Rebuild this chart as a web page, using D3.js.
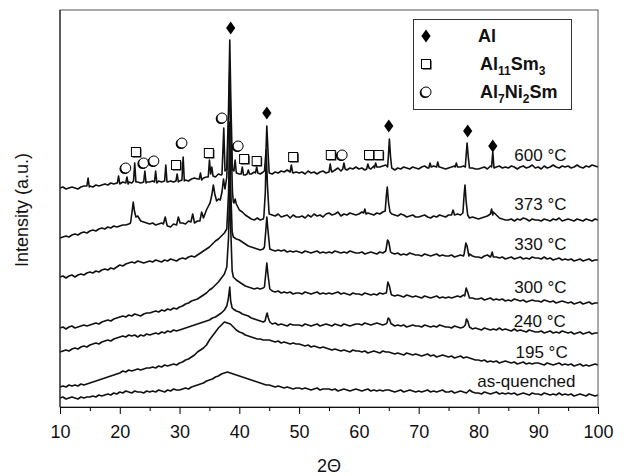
<!DOCTYPE html>
<html>
<head>
<meta charset="utf-8">
<script src="https://cdn.jsdelivr.net/npm/d3@7"></script>
<style>
  body { margin: 0; background: #fff; }
  text { font-family: "Liberation Sans", Arial, sans-serif; }
</style>
</head>
<body>
<script>

MARGIN = ({top: 10, right: 28, bottom: 69, left: 60});
WIDTH = 626;
HEIGHT = 476;

// 2-theta grid for the background values: 10 .. 100 deg, every 0.5 deg
GRID_START = 10;
GRID_STEP = 0.5;

// intensity (a.u.) on the grid, one value per 0.5 deg
var asQuenched = [
  9,10,8,9,10,9,8,10,9,10,
  10,11,10,12,11,12,13,12,14,13,
  15,14,16,15,14,16,15,15,14,16,
  15,16,15,17,16,15,17,16,18,17,
  17,18,19,18,20,21,22,23,24,26,
  27,28,30,31,33,34,35,34,33,32,
  31,30,29,28,27,26,25,24,23,22,
  22,21,20,21,20,19,20,19,18,19,
  19,18,19,18,17,18,19,17,18,18,
  18,17,18,16,17,18,17,16,17,18,
  17,16,17,18,16,17,16,17,16,17,
  17,16,15,16,17,15,16,17,16,15,
  16,15,16,17,15,16,15,16,17,15,
  15,16,14,15,16,15,14,17,15,14,
  14,13,15,14,13,14,15,13,14,13,
  14,13,14,12,13,14,13,12,14,13,
  13,12,14,13,12,13,12,14,12,13,
  12,13,11,12,13,12,11,13,12,11,
  12];

var t195 = [
  20,21,20,22,21,22,21,23,22,23,
  24,25,26,27,28,29,30,31,32,33,
  34,36,35,37,36,37,38,37,38,39,
  39,40,39,41,40,42,41,42,43,42,
  44,45,47,48,50,52,55,57,59,62,
  67,71,75,79,82,85,84,83,80,77,
  75,74,72,71,70,69,68,68,67,67,
  67,66,65,66,64,65,64,63,64,63,
  63,62,61,62,60,61,60,59,60,59,
  58,57,58,57,56,57,56,55,57,56,
  56,55,56,54,55,56,55,54,56,55,
  55,54,53,54,53,52,54,53,52,53,
  52,51,52,53,51,52,50,51,52,51,
  50,51,49,50,51,49,50,49,48,47,
  47,46,47,45,46,45,46,44,45,46,
  45,44,45,43,44,45,43,44,43,44,
  44,43,42,44,43,42,43,44,42,43,
  42,43,41,42,43,41,42,41,42,43,
  42];

var t240 = [
  55,56,57,56,58,59,58,60,61,60,
  62,63,64,63,65,66,67,66,68,69,
  70,71,70,72,71,72,70,72,71,73,
  72,73,74,73,75,74,76,75,77,76,
  77,78,79,80,81,82,83,84,85,86,
  87,89,90,92,94,97,102,103,98,96,
  95,93,92,91,89,88,87,86,85,86,
  84,83,84,82,83,82,81,83,82,82,
  82,81,83,82,81,82,83,81,82,83,
  82,81,83,82,81,83,82,81,82,83,
  83,82,84,83,82,83,84,83,82,83,
  82,83,81,82,81,82,80,81,82,81,
  81,80,82,81,80,81,80,82,81,80,
  80,79,81,80,79,80,79,80,78,79,
  78,77,79,78,77,78,77,79,77,78,
  77,76,78,76,77,76,75,77,76,75,
  75,76,74,75,76,74,75,74,76,75,
  74,75,73,74,75,73,74,75,73,74,
  74];

var t300 = [
  79,80,78,80,81,79,80,81,82,81,
  82,83,84,83,85,86,87,86,88,89,
  90,91,90,92,91,93,92,91,93,94,
  94,95,96,95,97,96,98,97,99,98,
  100,101,103,104,106,107,108,110,112,114,
  117,119,122,125,129,133,138,134,130,127,
  125,123,121,120,119,118,119,118,119,120,
  117,116,115,116,114,115,114,115,113,114,
  114,113,115,114,113,114,115,113,114,113,
  114,113,114,115,113,114,113,112,114,113,
  113,112,114,113,112,113,112,114,113,114,
  113,112,111,112,111,110,112,111,110,111,
  110,109,111,110,109,110,111,109,110,109,
  110,109,110,111,110,112,111,110,109,108,
  108,109,107,108,109,107,108,107,108,106,
  107,106,108,107,106,107,105,106,107,106,
  106,105,107,106,105,106,104,105,106,105,
  104,105,103,104,105,103,104,105,103,104,
  104];

var t330 = [
  130,131,129,131,132,130,132,133,132,134,
  135,134,136,135,137,138,137,139,138,140,
  142,141,143,144,145,144,146,145,144,145,
  146,145,147,146,145,147,146,148,147,146,
  148,149,148,150,151,150,152,154,156,158,
  160,163,166,168,171,174,176,173,170,168,
  167,165,163,161,160,159,158,157,158,157,
  158,157,156,157,156,157,155,156,155,156,
  155,154,156,155,154,155,156,154,155,154,
  155,154,156,155,154,155,154,156,155,154,
  154,155,153,154,155,154,153,155,154,156,
  155,154,153,154,152,153,152,154,153,152,
  152,151,153,152,151,152,153,151,152,151,
  151,152,150,151,152,151,152,153,151,150,
  150,149,151,152,150,149,150,149,150,148,
  149,150,148,149,150,148,149,148,150,149,
  149,148,150,148,149,147,148,149,147,148,
  147,148,146,147,148,146,147,148,146,147,
  147];

var t373 = [
  169,170,171,170,172,173,172,174,175,174,
  176,177,176,178,179,178,180,179,181,180,
  181,182,182,183,190,200,190,186,185,184,
  183,184,182,183,184,187,181,180,183,186,
  185,184,183,186,190,185,186,190,193,197,
  203,210,206,207,212,225,240,230,205,203,
  197,195,192,190,188,187,189,187,188,190,
  193,192,191,193,190,191,192,189,192,190,
  190,191,189,192,190,193,191,192,190,193,
  194,192,193,195,191,193,192,194,193,192,
  193,195,196,194,193,192,194,193,195,196,
  194,193,192,191,193,192,190,191,192,190,
  190,191,192,190,189,191,190,192,191,190,
  192,194,196,193,192,193,190,189,190,189,
  188,189,190,191,193,195,192,189,188,187,
  187,188,186,188,187,189,188,186,188,187,
  187,186,188,187,186,188,187,189,186,187,
  188,187,186,188,187,186,188,187,186,188,
  187];

var t600 = [
  219,220,218,219,220,219,218,220,221,223,
  221,220,222,221,222,223,222,224,223,224,
  224,225,223,225,224,226,225,224,226,225,
  225,226,224,226,225,227,225,226,225,227,
  226,228,227,226,228,229,228,230,229,230,
  231,232,230,233,232,240,250,245,236,234,
  233,235,232,234,233,235,234,233,235,236,
  234,233,235,234,236,235,237,236,234,235,
  234,235,233,236,234,235,233,235,236,234,
  236,235,237,239,236,238,237,239,238,240,
  238,239,237,240,238,241,239,240,241,242,
  240,238,237,239,238,240,239,238,240,239,
  238,240,241,239,242,241,243,240,239,238,
  239,240,241,242,240,241,243,242,239,238,
  238,239,240,238,241,239,240,241,239,240,
  239,241,240,238,240,241,239,240,242,239,
  240,238,241,239,240,242,240,239,241,240,
  241,239,240,242,240,239,241,240,242,241,
  240];

// sharp reflections: [2theta, intensity] points, replacing the grid inside their span
var peaks195 = [];
var peaksAsQuenched = [];
var peaks240 = [
  [[37.9,101],[38.15,108],[38.4,120],[38.55,106],[38.8,99]],
  [[44.3,86],[44.5,91],[44.65,94],[44.85,89],[45.1,85]],
  [[64.7,84],[64.9,89],[65.1,88],[65.4,83]],
  [[77.8,82],[78.0,88],[78.2,86],[78.5,80]]
];
var peaks300 = [
  [[37.9,140],[38.2,170],[38.4,230],[38.55,180],[38.8,136]],
  [[44.2,120],[44.45,135],[44.6,144],[44.8,132],[45.1,118]],
  [[64.6,114],[64.85,125],[65.1,121],[65.4,113]],
  [[77.7,111],[77.95,119],[78.2,115],[78.5,109]]
];
var peaks330 = [
  [[37.9,178],[38.2,215],[38.4,285],[38.55,220],[38.8,175]],
  [[44.2,160],[44.45,178],[44.6,190],[44.8,176],[45.1,158]],
  [[64.5,156],[64.8,167],[65.0,165],[65.3,155]],
  [[77.6,153],[77.9,164],[78.1,161],[78.4,151]],
  [[82.1,151],[82.3,155],[82.5,150]]
];
var peaks373 = [
  [[21.8,184],[22.05,195],[22.25,205],[22.45,196],[22.7,190],[23.0,191]],
  [[27.3,183],[27.6,190],[27.9,182]],
  [[29.5,182],[29.8,190],[30.1,184]],
  [[31.9,185],[32.2,193],[32.5,184]],
  [[33.4,186],[33.7,195],[34.0,189]],
  [[35.1,204],[35.4,212],[35.65,222],[35.9,213],[36.2,206],[36.5,208],[36.8,207],
   [37.1,215],[37.35,228],[37.6,218],[37.9,230],[38.2,280],[38.4,337],[38.6,270],[38.85,215]],
  [[39.1,204],[39.3,208],[39.5,203]],
  [[44.1,190],[44.35,215],[44.5,257],[44.7,222],[44.95,196]],
  [[60.8,194],[61.0,198],[61.2,193]],
  [[64.4,196],[64.6,212],[64.75,220],[64.95,205],[65.2,195]],
  [[75.5,192],[75.75,197],[76.0,192]],
  [[77.4,194],[77.6,212],[77.75,222],[77.95,205],[78.2,192]],
  [[82.0,193],[82.2,198],[82.4,192]]
];
var peaks600 = [
  [[14.5,221],[14.7,229],[14.9,220]],
  [[19.6,224],[19.8,231],[20.0,223]],
  [[21.0,224],[21.2,230],[21.4,223]],
  [[22.3,226],[22.5,244],[22.7,225]],
  [[24.0,225],[24.2,236],[24.4,224]],
  [[25.8,225],[26.0,236],[26.2,224]],
  [[27.5,226],[27.7,242],[27.9,225]],
  [[29.4,226],[29.6,233],[29.8,225]],
  [[30.4,227],[30.6,250],[30.8,226]],
  [[33.3,228],[33.5,234],[33.7,227]],
  [[34.8,230],[35.0,247],[35.2,233],[35.4,240],[35.6,231]],
  [[37.1,233],[37.4,279],[37.6,236],[37.9,238],[38.2,300],[38.4,367],[38.6,300],[38.85,238]],
  [[39.1,236],[39.3,247],[39.5,234]],
  [[40.3,233],[40.5,240],[40.7,232]],
  [[41.3,233],[41.5,237],[41.7,233]],
  [[42.7,234],[42.9,240],[43.1,234]],
  [[44.2,236],[44.45,255],[44.6,281],[44.8,255],[45.0,234]],
  [[48.5,235],[48.7,242],[48.9,235]],
  [[55.0,235],[55.2,243],[55.4,236]],
  [[57.3,238],[57.5,244],[57.7,238]],
  [[61.3,238],[61.5,243],[61.7,239]],
  [[62.6,239],[62.8,244],[63.0,240]],
  [[64.8,240],[64.95,252],[65.1,268],[65.3,250],[65.5,239]],
  [[71.7,239],[71.9,244],[72.1,240]],
  [[73.0,240],[73.2,245],[73.4,240]],
  [[76.1,240],[76.3,244],[76.5,240]],
  [[77.8,240],[77.95,252],[78.1,264],[78.3,250],[78.5,239]],
  [[82.2,240],[82.4,255],[82.6,239]]
];

var traceLabels = ["600 °C", "373 °C", "330 °C", "300 °C", "240 °C", "195 °C", "as-quenched"];
// label anchor: [2theta, intensity] of the text baseline start
var labelPos = [[86.0, 246], [86.0, 197], [86.0, 157], [86.0, 114], [85.9, 80], [86.2, 49], [79.8, 20]];

// phase markers above the 600 C pattern: [2theta, intensity]
var markAl = [[38.55, 379], [44.6, 294], [65.0, 281], [78.2, 276], [82.4, 261]];
var markAl11Sm3 = [[22.7, 255], [29.4, 242], [34.9, 254], [40.8, 248], [42.9, 246],
                   [49.0, 250], [55.3, 252], [61.7, 252], [63.3, 252]];
var markAl7Ni2Sm = [[21.0, 239], [24.0, 244], [25.7, 246], [30.4, 264], [37.1, 289],
                    [39.8, 261], [57.2, 252]];

var xTicks = [10, 20, 30, 40, 50, 60, 70, 80, 90, 100];
var xMinorTicks = [15, 25, 35, 45, 55, 65, 75, 85, 95];


function buildSeries(values, peaks) {
    var pts = values.map((v, i) => [GRID_START + i * GRID_STEP, v]);
    pts = pts.filter(p => !peaks.some(pk => p[0] >= pk[0][0] && p[0] <= pk[pk.length - 1][0]));
    return pts.concat(...peaks).sort((a, b) => a[0] - b[0]);
}

var series = [
    buildSeries(t600, peaks600),
    buildSeries(t373, peaks373),
    buildSeries(t330, peaks330),
    buildSeries(t300, peaks300),
    buildSeries(t240, peaks240),
    buildSeries(t195, peaks195),
    buildSeries(asQuenched, peaksAsQuenched)
];

var svg = d3.select("body").append("svg")
    .attr("width", WIDTH)
    .attr("height", HEIGHT);

var x = d3.scaleLinear()
    .domain([10, 100])
    .range([MARGIN.left, WIDTH - MARGIN.right]);

var y = d3.scaleLinear()
    .domain([0, 397])
    .range([HEIGHT - MARGIN.bottom, MARGIN.top]);

var line = d3.line()
    .x(d => x(d[0]))
    .y(d => y(d[1]));

svg.append("g")
  .selectAll("path")
  .data(series)
  .enter().append("path")
    .attr("d", line)
    .attr("fill", "none")
    .attr("stroke", "#111")
    .attr("stroke-width", 1.6)
    .attr("stroke-linejoin", "round");

svg.append("g")
  .selectAll("text")
  .data(traceLabels)
  .enter().append("text")
    .attr("x", (d, i) => x(labelPos[i][0]))
    .attr("y", (d, i) => y(labelPos[i][1]))
    .attr("font-size", 17)
    .attr("fill", "#111")
    .text(d => d);

// markers
function diamond(g) {
    g.append("path").attr("d", "M0,-6.5L4.6,0L0,6.5L-4.6,0Z").attr("fill", "#000");
}
function square(g) {
    g.append("rect").attr("x", -3.5).attr("y", -3.5).attr("width", 9).attr("height", 9).attr("fill", "#000");
    g.append("rect").attr("x", -4.5).attr("y", -4.5).attr("width", 9).attr("height", 9)
        .attr("fill", "#fff").attr("stroke", "#000").attr("stroke-width", 1);
}
function circle(g) {
    g.append("circle").attr("cx", -1).attr("cy", 0.8).attr("r", 5.3).attr("fill", "#000");
    g.append("circle").attr("cx", 0).attr("cy", 0).attr("r", 5)
        .attr("fill", "#fff").attr("stroke", "#000").attr("stroke-width", 1);
}

function drawMarks(data, shape) {
    svg.append("g")
      .selectAll("g")
      .data(data)
      .enter().append("g")
        .attr("transform", d => "translate(" + x(d[0]) + "," + y(d[1]) + ")")
        .each(function() { shape(d3.select(this)); });
}
drawMarks(markAl, diamond);
drawMarks(markAl11Sm3, square);
drawMarks(markAl7Ni2Sm, circle);

// frame
svg.append("rect")
    .attr("x", MARGIN.left)
    .attr("y", MARGIN.top)
    .attr("width", WIDTH - MARGIN.left - MARGIN.right)
    .attr("height", HEIGHT - MARGIN.top - MARGIN.bottom)
    .attr("fill", "none")
    .attr("stroke", "#555")
    .attr("stroke-width", 1);

// x axis
var xAxis = svg.append("g")
    .attr("transform", `translate(0,${HEIGHT - MARGIN.bottom})`)
    .call(d3.axisBottom(x).tickValues(xTicks).tickSize(7).tickSizeOuter(0).tickPadding(11));
xAxis.selectAll("text")
    .attr("font-size", 18)
    .attr("font-family", "\"Liberation Sans\", Arial, sans-serif")
    .attr("fill", "#111");
xAxis.select(".domain").attr("stroke", "#111");

svg.append("g")
    .attr("transform", `translate(0,${HEIGHT - MARGIN.bottom})`)
    .call(d3.axisBottom(x).tickValues(xMinorTicks).tickSize(4).tickFormat(""))
    .call(g => g.select(".domain").remove());

svg.append("line")
    .attr("x1", MARGIN.left).attr("x2", MARGIN.left)
    .attr("y1", MARGIN.top).attr("y2", HEIGHT - MARGIN.bottom)
    .attr("stroke", "#111");

svg.append("text")
    .attr("x", (MARGIN.left + WIDTH - MARGIN.right) / 2)
    .attr("y", 472)
    .attr("text-anchor", "middle")
    .attr("font-size", 18)
    .attr("fill", "#111")
    .text("2Θ");

svg.append("text")
    .attr("transform", "translate(28,210) rotate(-90)")
    .attr("text-anchor", "middle")
    .attr("font-size", 18)
    .attr("fill", "#111")
    .text("Intensity (a.u.)");

// legend
var legend = svg.append("g");
legend.append("rect")
    .attr("x", 413.5).attr("y", 19.5)
    .attr("width", 158).attr("height", 90)
    .attr("fill", "#fff")
    .attr("stroke", "#333");

var legendItems = [
    {shape: diamond, parts: [["Al", 0]]},
    {shape: square, parts: [["Al", 0], ["11", 1], ["Sm", 0], ["3", 1]]},
    {shape: circle, parts: [["Al", 0], ["7", 1], ["Ni", 0], ["2", 1], ["Sm", 0]]}
];
legendItems.forEach(function(item, i) {
    var cy = 36 + i * 28;
    var g = legend.append("g").attr("transform", "translate(426," + cy + ")");
    item.shape(g);
    var t = legend.append("text")
        .attr("x", i == 0 ? 478 : 480)
        .attr("y", cy + 6)
        .attr("font-weight", "bold")
        .attr("font-size", 18)
        .attr("fill", "#111");
    var down = false;
    item.parts.forEach(function(p) {
        var ts = t.append("tspan").text(p[0]);
        if (p[1] && !down) { ts.attr("font-size", 12).attr("dy", 5); down = true; }
        else if (!p[1] && down) { ts.attr("dy", -5); down = false; }
    });
});

</script>
</body>
</html>
